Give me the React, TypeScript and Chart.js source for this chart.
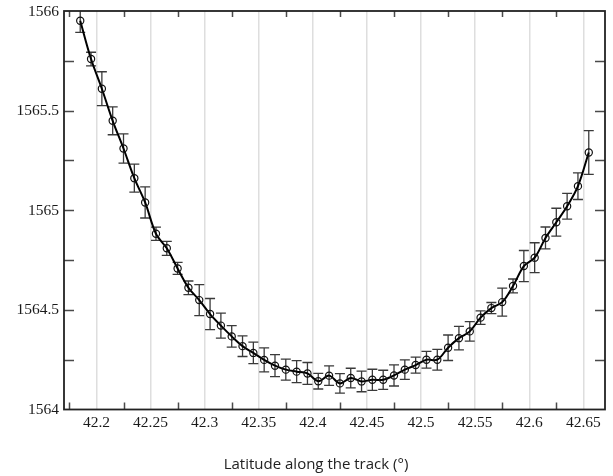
import React, { useEffect, useRef } from 'react';
import { Chart, registerables } from 'chart.js';

Chart.register(...registerables);

const latitudes = [
  42.185, 42.195, 42.205, 42.215, 42.225, 42.235, 42.245, 42.255, 42.265, 42.275,
  42.285, 42.295, 42.305, 42.315, 42.325, 42.335, 42.345, 42.355, 42.365, 42.375,
  42.385, 42.395, 42.405, 42.415, 42.425, 42.435, 42.445, 42.455, 42.465, 42.475,
  42.485, 42.495, 42.505, 42.515, 42.525, 42.535, 42.545, 42.555, 42.565, 42.575,
  42.585, 42.595, 42.605, 42.615, 42.625, 42.635, 42.645, 42.655,
];

const heights = [
  1565.951, 1565.759, 1565.610, 1565.449, 1565.310, 1565.161, 1565.039, 1564.882, 1564.809, 1564.708,
  1564.611, 1564.549, 1564.479, 1564.421, 1564.367, 1564.318, 1564.284, 1564.249, 1564.220, 1564.200,
  1564.190, 1564.181, 1564.142, 1564.170, 1564.131, 1564.158, 1564.141, 1564.149, 1564.149, 1564.171,
  1564.200, 1564.223, 1564.250, 1564.250, 1564.310, 1564.358, 1564.392, 1564.461, 1564.509, 1564.539,
  1564.620, 1564.720, 1564.762, 1564.861, 1564.940, 1565.020, 1565.121, 1565.290,
];

const errors = [
  0.058, 0.034, 0.085, 0.070, 0.073, 0.070, 0.078, 0.033, 0.035, 0.030,
  0.034, 0.078, 0.078, 0.063, 0.054, 0.052, 0.054, 0.060, 0.055, 0.053,
  0.055, 0.055, 0.039, 0.049, 0.049, 0.049, 0.052, 0.053, 0.048, 0.053,
  0.049, 0.040, 0.042, 0.052, 0.064, 0.059, 0.049, 0.034, 0.028, 0.070,
  0.035, 0.078, 0.075, 0.055, 0.070, 0.065, 0.067, 0.110,
];

const xTickValues = [42.2, 42.25, 42.3, 42.35, 42.4, 42.45, 42.5, 42.55, 42.6, 42.65];
const xMinorTickValues = [42.175, 42.225, 42.275, 42.325, 42.375, 42.425, 42.475, 42.525, 42.575, 42.625];
const yTickValues = [1564, 1564.5, 1565, 1565.5, 1566];
const yMinorTickValues = [1564.25, 1564.5, 1564.75, 1565, 1565.25, 1565.5, 1565.75];

const xTitle = 'Latitude along the track (°)';
const serifFont = '15.5px "Liberation Serif", "Times New Roman", serif';

const errorBarPlugin = {
  id: 'errorBars',
  beforeDatasetsDraw(chart: any) {
    const { ctx, chartArea, scales } = chart;
    const xs = scales.x;
    const ys = scales.y;
    ctx.save();
    ctx.beginPath();
    ctx.rect(chartArea.left, chartArea.top, chartArea.right - chartArea.left, chartArea.bottom - chartArea.top);
    ctx.clip();
    ctx.strokeStyle = '#3a3a3a';
    ctx.lineWidth = 1.3;
    const cap = 5;
    latitudes.forEach((lat, i) => {
      const px = xs.getPixelForValue(lat);
      const top = ys.getPixelForValue(heights[i] + errors[i]);
      const bot = ys.getPixelForValue(heights[i] - errors[i]);
      ctx.beginPath();
      ctx.moveTo(px, top);
      ctx.lineTo(px, bot);
      ctx.moveTo(px - cap, top);
      ctx.lineTo(px + cap, top);
      ctx.moveTo(px - cap, bot);
      ctx.lineTo(px + cap, bot);
      ctx.stroke();
    });
    ctx.restore();
  },
};

const framePlugin = {
  id: 'frame',
  afterDraw(chart: any) {
    const { ctx, chartArea, scales } = chart;
    const xs = scales.x;
    const ys = scales.y;
    const { left, right, top, bottom } = chartArea;
    ctx.save();
    ctx.strokeStyle = '#4a4a4a';
    ctx.lineWidth = 1.5;
    xMinorTickValues.forEach((v) => {
      const px = Math.round(xs.getPixelForValue(v)) + 0.5;
      ctx.beginPath();
      ctx.moveTo(px, bottom);
      ctx.lineTo(px, bottom - 7);
      ctx.moveTo(px, top);
      ctx.lineTo(px, top + 6);
      ctx.stroke();
    });
    yMinorTickValues.forEach((v) => {
      const py = Math.round(ys.getPixelForValue(v)) + 0.5;
      ctx.beginPath();
      ctx.moveTo(left, py);
      ctx.lineTo(left + 10, py);
      ctx.moveTo(right, py);
      ctx.lineTo(right - 10, py);
      ctx.stroke();
    });
    ctx.strokeStyle = '#222';
    ctx.lineWidth = 1.8;
    ctx.strokeRect(left, top, right - left, bottom - top);

    // tick labels, placed on the library's scale positions
    ctx.fillStyle = '#1a1a1a';
    ctx.font = serifFont;
    ctx.textAlign = 'center';
    ctx.textBaseline = 'alphabetic';
    xs.ticks.forEach((t: any) => {
      ctx.fillText(String(t.value), xs.getPixelForValue(t.value), bottom + 17.5);
    });
    ctx.textAlign = 'right';
    ctx.textBaseline = 'middle';
    ys.ticks.forEach((t: any) => {
      ctx.fillText(String(t.value), left - 5, ys.getPixelForValue(t.value) + 0.5);
    });

    ctx.fillStyle = '#222';
    ctx.font = '15px "Open Sans"';
    ctx.textAlign = 'center';
    ctx.textBaseline = 'alphabetic';
    ctx.fillText(xTitle, (left + right) / 2 - 18.5, bottom + 59);
    ctx.restore();
  },
};

export default function App() {
  const canvasRef = useRef<HTMLCanvasElement | null>(null);

  useEffect(() => {
    const canvas = canvasRef.current;
    if (!canvas) return;
    const chart = new Chart(canvas, {
      type: 'line',
      data: {
        datasets: [
          {
            data: latitudes.map((x, i) => ({ x, y: heights[i] })),
            borderColor: '#000',
            borderWidth: 2,
            tension: 0.35,
            pointRadius: 3.6,
            pointBorderWidth: 1.2,
            pointBorderColor: '#111',
            pointBackgroundColor: 'rgba(0,0,0,0)',
            fill: false,
          },
        ],
      },
      options: {
        responsive: false,
        animation: false,
        events: [],
        layout: { padding: { top: 11, right: 8, left: 0, bottom: 0 } },
        plugins: {
          legend: { display: false },
          tooltip: { enabled: false },
        },
        scales: {
          x: {
            type: 'linear',
            min: 42.17,
            max: 42.67,
            afterBuildTicks: (s: any) => {
              s.ticks = xTickValues.map((v) => ({ value: v }));
            },
            afterFit: (s: any) => {
              s.height = 66.5;
            },
            ticks: { display: false, autoSkip: false, maxRotation: 0 },
            grid: { color: '#dedede', lineWidth: 1.5, drawTicks: false },
            border: { display: false },
          },
          y: {
            type: 'linear',
            min: 1564,
            max: 1566,
            afterBuildTicks: (s: any) => {
              s.ticks = yTickValues.map((v) => ({ value: v }));
            },
            afterFit: (s: any) => {
              s.width = 64;
            },
            ticks: { display: false },
            grid: { display: false, drawTicks: false },
            border: { display: false },
          },
        },
      },
      plugins: [errorBarPlugin, framePlugin],
    });
    return () => chart.destroy();
  }, []);

  return (
    <div style={{ position: 'fixed', left: 0, top: 0, width: 613, height: 476, background: '#fff' }}>
      <canvas ref={canvasRef} width={613} height={476} style={{ display: 'block' }} />
    </div>
  );
}
